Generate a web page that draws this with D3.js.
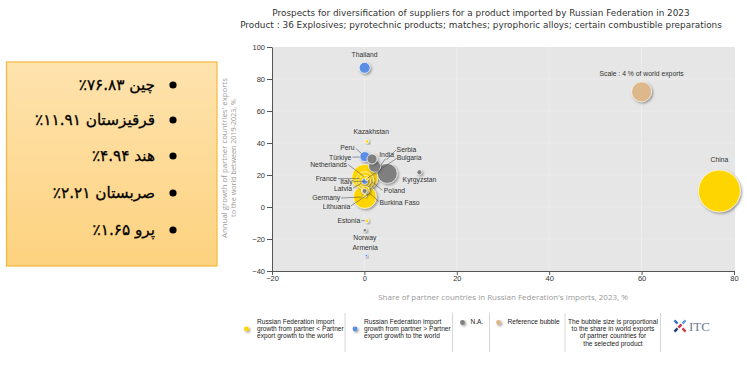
<!DOCTYPE html>
<html><head><meta charset="utf-8">
<script src="https://cdn.jsdelivr.net/npm/d3@7"></script>
<style>
html,body{margin:0;padding:0;background:#fff;}
svg{display:block;}
</style></head>
<body>
<svg id="chart" width="747" height="365"></svg>
<script>
// ---------- data ----------
const countries   = ["China","Thailand","Kazakhstan","Türkiye","Peru","Serbia","India","Bulgaria","Kyrgyzstan","Netherlands","France","Latvia","Italy","Lithuania","Poland","Germany","Burkina Faso","Estonia","Norway","Armenia"];
const importShare = [76.83, 0.05, 0.6, 0.1, 1.65, 2.21, 4.94, 0.5, 11.91, 0.1, 0.1, 0.05, 0.05, 0.1, 0.2, 0.05, 0.15, 0.6, 0.1, 0.4];
const exportGrowth= [10, 87, 41, 31.5, 30, 25.5, 21, 17.5, 21.7, 18.5, 16.5, 16.2, 16.0, 6.3, 10.5, 10.0, 7, -8.6, -14.5, -30.4];
const worldShare  = [17.6, 1.2, 0.12, 1.0, 1.0, 1.44, 4.0, 0.1, 0.25, 6.8, 3.2, 1.4, 0.36, 5.3, 0.64, 0.25, 0.08, 0.12, 0.12, 0.05];
const groupOf     = ["lower","higher","lower","higher","na","na","na","lower","na","lower","lower","lower","higher","lower","lower","na","lower","lower","na","higher"];
const refBubble   = {x: 60, y: 72, share: 4, label: "Scale : 4 % of world exports"};
const xTicks = [-20, 0, 20, 40, 60, 80];
const yTicks = [-40, -20, 0, 20, 40, 60, 80, 100];
const titleLines = ["Prospects for diversification of suppliers for a product imported by Russian Federation in 2023",
                    "Product : 36 Explosives; pyrotechnic products; matches; pyrophoric alloys; certain combustible preparations"];
const xTitle = "Share of partner countries in Russian Federation's imports, 2023, %";
const yTitle = ["Annual growth of partner countries' exports", "to the world between 2019-2023, %"];
const topSuppliers = ["چین ۷۶.۸۳٪", "قرقیزستان ۱۱.۹۱٪", "هند ۴.۹۴٪", "صربستان ۲.۲۱٪", "پرو ۱.۶۵٪"];
const legendItems = [
  {group:"lower", lines:["Russian Federation import","growth from partner < Partner","export growth to the world"]},
  {group:"higher", lines:["Russian Federation import","growth from partner > Partner","export growth to the world"]},
  {group:"na", lines:["N.A."]},
  {group:"ref", lines:["Reference bubble"]}
];
const sizeNote = ["The bubble size is proportional","to the share in world exports","of partner countries for","the selected product"];

// ---------- styles / layout ----------
const colors = {lower:"#ffd500", higher:"#5b8ee6", na:"#7f7f7f", ref:"#ddb88a"};
// label layout: [dx, dy, anchor, lineStartDx, lineStartDy, lineEndDx, lineEndDy] relative to bubble center (px)
const labelLayout = {
  "China":[0,-31,"middle"],
  "Thailand":[0,-13,"middle"],
  "Kazakhstan":[4,-9.5,"middle"],
  "Kyrgyzstan":[0,7,"middle"],
  "Norway":[0,7,"middle"],
  "Armenia":[-1,-8,"middle"],
  "Estonia":[-7,-0.5,"end",-6,0,-2,0],
  "Türkiye":[-13.5,1,"end",-12.5,0.5,-5,0.5],
  "Peru":[-17.5,-11,"end",-16,-10.3,-10.3,-5.3],
  "India":[-0.6,-18.4,"middle",-1.5,-15,-8,-6],
  "Serbia":[22,-17,"start",21.3,-16.2,12,-6.2],
  "Bulgaria":[30,-21.7,"start",30,-20.7,1,-1],
  "Netherlands":[-18,-12.5,"end",-17,-13,-1,-1],
  "France":[-28,-2,"end",-27,-2,-5,-2],
  "Italy":[-12,0,"end",-11,0,0,0],
  "Latvia":[-12.5,8,"end",-11.5,7,-3,2],
  "Germany":[-24.5,7,"end",-23.5,7,-3,6],
  "Lithuania":[-14.5,10,"end",-14,9,4,-3],
  "Poland":[18.5,0.5,"start",17,0,7,-8],
  "Burkina Faso":[14.5,7,"start",14,6,4,-3]
};

const svg = d3.select("#chart");
const x = d3.scaleLinear().domain([-20, 80]).range([272, 734]);
const y = d3.scaleLinear().domain([-40, 100]).range([271, 47]);
const r = d3.scaleSqrt().domain([0, 4]).range([0, 10]);

const defs = svg.append("defs");
const f = defs.append("filter").attr("id","shadow").attr("x","-50%").attr("y","-50%").attr("width","200%").attr("height","200%");
f.append("feDropShadow").attr("dx",1.3).attr("dy",1.3).attr("stdDeviation",0.9).attr("flood-color","#444").attr("flood-opacity",0.55);
const g = defs.append("linearGradient").attr("id","boxgrad").attr("x1",0).attr("y1",0).attr("x2",0).attr("y2",1);
g.append("stop").attr("offset","0%").attr("stop-color","#fee3ae");
g.append("stop").attr("offset","100%").attr("stop-color","#fdd27f");

function fitText(sel, width){
  const len = sel.node().getComputedTextLength();
  const fs = parseFloat(sel.attr("font-size"));
  sel.attr("font-size", fs * width / len);
}

// ---------- title ----------
const t1 = svg.append("text").attr("x",481).attr("y",16).attr("text-anchor","middle")
  .attr("font-family","DejaVu Sans").attr("font-size",10).attr("fill","#333").text(titleLines[0]);
fitText(t1, 418);
const t2 = svg.append("text").attr("x",481).attr("y",28).attr("text-anchor","middle")
  .attr("font-family","DejaVu Sans").attr("font-size",10).attr("fill","#333").text(titleLines[1]);
fitText(t2, 482);

// ---------- plot area ----------
svg.append("rect").attr("x",272).attr("y",47).attr("width",463).attr("height",224).attr("fill","#e6e6e6");
svg.append("g").selectAll("line").data(xTicks.slice(1,-1)).join("line")
  .attr("x1",d=>x(d)).attr("x2",d=>x(d)).attr("y1",47).attr("y2",271)
  .attr("stroke","#efefef").attr("stroke-width",0.8);
svg.append("g").selectAll("line").data(yTicks.slice(1,-1)).join("line")
  .attr("x1",272).attr("x2",735).attr("y1",d=>y(d)).attr("y2",d=>y(d))
  .attr("stroke","#efefef").attr("stroke-width",0.8);

const yAxis = svg.append("g").attr("transform","translate(272,0)")
  .call(d3.axisLeft(y).tickValues(yTicks).tickSize(5).tickSizeOuter(0).tickPadding(2));
const xAxis = svg.append("g").attr("transform","translate(0,271)")
  .call(d3.axisBottom(x).tickValues(xTicks).tickSize(4).tickSizeOuter(0).tickPadding(1));
[yAxis, xAxis].forEach(a=>{
  a.selectAll("path").attr("stroke","#555");
  a.selectAll("line").attr("stroke","#555");
  a.selectAll("text").attr("font-family","Liberation Sans").attr("font-size",7.5).attr("fill","#333");
});

// axis titles
const xt = svg.append("text").attr("x",503).attr("y",300).attr("text-anchor","middle")
  .attr("font-family","Open Sans").attr("font-size",8).attr("fill","#999").text(xTitle);
fitText(xt, 250);
yTitle.forEach((s,i)=>{
  const t = svg.append("text").attr("transform",`translate(${227+i*9},158) rotate(-90)`).attr("text-anchor","middle")
    .attr("font-family","Open Sans").attr("font-size",8).attr("fill","#999").text(s);
  fitText(t, i===0?160:118);
});

// ---------- bubbles ----------
const data = countries.map((c,i)=>({name:c, x:importShare[i], y:exportGrowth[i], s:worldShare[i], group:groupOf[i]}));
const sorted = data.slice().sort((a,b)=>b.s-a.s);
const bub = svg.append("g");
bub.append("circle").attr("cx",x(refBubble.x)).attr("cy",y(refBubble.y)).attr("r",r(refBubble.share))
  .attr("fill",colors.ref).attr("stroke","#fff").attr("stroke-width",0.6).attr("filter","url(#shadow)");
bub.selectAll("circle.c").data(sorted).join("circle").attr("class","c")
  .attr("cx",d=>x(d.x)).attr("cy",d=>y(d.y)).attr("r",d=>Math.max(1.3,r(d.s)))
  .attr("fill",d=>colors[d.group]).attr("stroke","#fff").attr("stroke-width",0.7)
  .attr("filter","url(#shadow)");

// labels
const lab = svg.append("g").attr("font-family","Liberation Sans").attr("font-size",6.8).attr("fill","#333");
lab.append("text").attr("x",x(refBubble.x)).attr("y",y(refBubble.y)-18).attr("dy","0.35em")
  .attr("text-anchor","middle").text(refBubble.label);
data.forEach(d=>{
  const L = labelLayout[d.name]; if(!L) return;
  const cx = x(d.x), cy = y(d.y);
  if (L.length > 3) {
    lab.append("line").attr("x1",cx+L[3]).attr("y1",cy+L[4]).attr("x2",cx+L[5]).attr("y2",cy+L[6])
      .attr("stroke","#555").attr("stroke-width",0.6);
  }
  lab.append("text").attr("x",cx+L[0]).attr("y",cy+L[1]).attr("dy","0.35em").attr("text-anchor",L[2]).text(d.name);
});

// ---------- legend ----------
const leg = svg.append("g").attr("font-family","Liberation Sans").attr("font-size",6.6).attr("fill","#222");
const legX = [{dot:246.5, text:257, sepAfter:345},{dot:355, text:364, sepAfter:452.5},{dot:462.5, text:470.5, sepAfter:489.5},{dot:498.5, text:507.5, sepAfter:565}];
legendItems.forEach((it,i)=>{
  const p = legX[i];
  const dotY = it.lines.length>1 ? 329 : 322.5;
  leg.append("circle").attr("cx",p.dot).attr("cy",dotY).attr("r",2.4).attr("fill",colors[it.group]).attr("filter","url(#shadow)");
  it.lines.forEach((s,j)=>leg.append("text").attr("x",p.text).attr("y",324+j*7.2).text(s));
  leg.append("line").attr("x1",p.sepAfter).attr("x2",p.sepAfter).attr("y1",313).attr("y2",352).attr("stroke","#ccc").attr("stroke-width",0.8);
});
sizeNote.forEach((s,j)=>leg.append("text").attr("x",613).attr("y",324+j*7.2).attr("text-anchor","middle").text(s));
leg.append("line").attr("x1",660.5).attr("x2",660.5).attr("y1",313).attr("y2",352).attr("stroke","#ccc").attr("stroke-width",0.8);

// ITC logo
const logo = svg.append("g").attr("transform","translate(680,326)");
[[-4,-4,"#3a6fc0",45],[4,4,"#d63a4a",45],[-4,4,"#243a78",-45],[4,-4,"#5aa0dc",-45],[0,0,"#c2324a",-45]].forEach(b=>{
  logo.append("rect").attr("x",b[0]-2.2).attr("y",b[1]-1.2).attr("width",4.4).attr("height",2.4)
    .attr("fill",b[2]).attr("transform",`rotate(${b[3]},${b[0]},${b[1]})`);
});
svg.append("text").attr("x",689).attr("y",331).attr("font-family","Liberation Serif").attr("font-size",13)
  .attr("fill","#6d7a90").text("ITC");

// ---------- Persian callout box ----------
svg.append("rect").attr("x",6.5).attr("y",62).attr("width",210.5).attr("height",204)
  .attr("fill","url(#boxgrad)").attr("stroke","#f5b83f").attr("stroke-width",1.2);
const boxY = [85, 120, 156, 193, 230];
const pt = [];
topSuppliers.forEach((s,i)=>{
  svg.append("circle").attr("cx",173).attr("cy",boxY[i]).attr("r",3.6).attr("fill","#000");
  pt.push(svg.append("text").attr("x",155).attr("y",boxY[i]).attr("dy","0.35em").attr("text-anchor","start")
    .attr("direction","rtl").style("unicode-bidi","embed").attr("font-family","DejaVu Sans")
    .attr("font-size",17).attr("fill","#000").attr("stroke","#000").attr("stroke-width",0.3).text(s));
});
// scale font so the widest line matches reference width
const widest = pt[1].node().getComputedTextLength();
const pfs = 17 * 120 / widest;
pt.forEach(t=>t.attr("font-size", pfs));
</script>
</body></html>
